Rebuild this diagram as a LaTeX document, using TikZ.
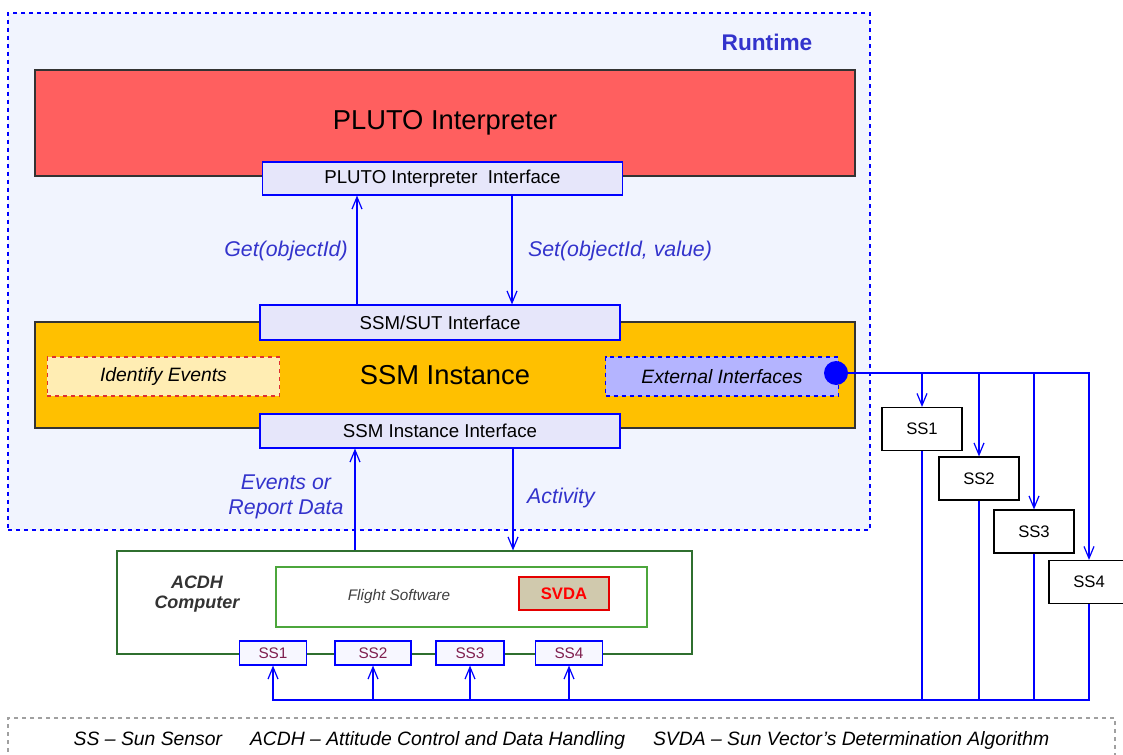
\documentclass[tikz,border=0pt]{standalone}
\usepackage{fontspec}
\setmainfont{Liberation Sans}
\usetikzlibrary{positioning,arrows.meta}
\definecolor{runfill}{HTML}{F1F4FE}
\definecolor{plutored}{HTML}{FF5F5F}
\definecolor{ssmorange}{HTML}{FFC000}
\definecolor{iffill}{HTML}{E6E6FA}
\definecolor{lblblue}{HTML}{3333CC}
\definecolor{idfill}{HTML}{FFEDB3}
\definecolor{idred}{HTML}{E03030}
\definecolor{extfill}{HTML}{B4B4FF}
\definecolor{acdhgreen}{HTML}{2F6F2F}
\definecolor{fswgreen}{HTML}{4CA63C}
\definecolor{svdafill}{HTML}{D0C9AD}
\definecolor{sstext}{HTML}{7F1F4F}
\definecolor{legendgray}{HTML}{A0A0A0}
\tikzset{
  block/.style={draw=black!80, line width=0.8pt, inner sep=0pt},
  iface/.style={draw=blue, fill=iffill, line width=0.8pt, minimum width=270pt,
    font=\fontsize{14}{16}\selectfont},
  subbox/.style={dashed, line width=0.8pt, minimum width=174.5pt, minimum height=29.25pt,
    font=\itshape\fontsize{14.5}{16}\selectfont},
  flow/.style={blue, line width=0.9pt, -{Straight Barb[length=9pt,width=7.5pt]}},
  callout/.style={text=lblblue, font=\itshape\fontsize{16}{19}\selectfont, align=center},
  sensor/.style={draw=blue, fill=blue!3, line width=0.8pt, minimum height=18pt, inner sep=0pt,
    text=sstext, font=\fontsize{11.5}{13}\selectfont},
  remote/.style={draw=black, line width=0.8pt, minimum width=60pt, minimum height=32.25pt,
    font=\fontsize{12.5}{14}\selectfont}
}
\begin{document}
\begin{tikzpicture}[x=0.75pt, y=-0.75pt]
  \useasboundingbox (0,0) rectangle (1123,755);

  \node (runtime) [draw=blue, dashed, fill=runfill, line width=0.8pt,
    minimum width=646.5pt, minimum height=387.75pt] at (439,271.5) {};
  \node (runlbl) [text=lblblue, font=\bfseries\fontsize{17}{20}\selectfont] at (767,42) {Runtime};

  \node (pluto) [block, fill=plutored, minimum width=615pt, minimum height=79.5pt,
    font=\fontsize{20.5}{24}\selectfont] at (445,123) {PLUTO Interpreter};
  \node (plutoif) [iface, minimum height=24.75pt] at (442.5,178.5) {PLUTO Interpreter\ \ Interface};

  \node (ssm) [block, fill=ssmorange, minimum width=615pt, minimum height=79.5pt,
    font=\fontsize{20.5}{24}\selectfont] at (445,375) {SSM Instance};
  \node (sut) [iface, minimum height=26.25pt] at (440,322.5) {SSM/SUT Interface};
  \node (ssmif) [iface, minimum height=25.5pt] at (440,431) {SSM Instance Interface};
  \node (identify) [subbox, draw=idred, fill=idfill] at (163.5,376.5) {Identify Events};
  \node (external) [subbox, draw=blue, fill=extfill] at (722,376.5) {External Interfaces};
  \node (dot) [circle, fill=blue, minimum size=18pt, inner sep=0pt] at (836,373) {};

  \coordinate (getx) at (357,0);
  \coordinate (setx) at (512,0);
  \coordinate (evx) at (355,0);
  \coordinate (actx) at (513,0);
  \draw [flow] (sut.north -| getx) -- (plutoif.south -| getx);
  \draw [flow] (plutoif.south -| setx) -- (sut.north -| setx);
  \node (getlbl) [callout] at (286,251) {Get(objectId)};
  \node (setlbl) [callout] at (620,251) {Set(objectId, value)};

  \node (acdh) [draw=acdhgreen, line width=0.8pt, minimum width=431.25pt, minimum height=77.25pt]
    at (404.5,602.5) {};
  \node (acdhlbl) [text=black!80, align=center, font=\bfseries\itshape\fontsize{13.5}{15}\selectfont]
    at (197,594) {ACDH\\Computer};
  \node (flight) [draw=fswgreen, line width=0.8pt, minimum width=278.25pt, minimum height=45pt]
    at (461.5,597) {};
  \node (fswlbl) [text=black!75, font=\itshape\fontsize{11.5}{13}\selectfont] at (399,597) {Flight Software};
  \node (svda) [draw=red!90!black, fill=svdafill, line width=0.8pt, minimum width=67.5pt,
    minimum height=24.75pt, text=red, font=\bfseries\fontsize{12.5}{14}\selectfont] at (564,593.5) {SVDA};

  \draw [flow] (acdh.north -| evx) -- (ssmif.south -| evx);
  \draw [flow] (ssmif.south -| actx) -- (acdh.north -| actx);
  \node (evlbl) [callout] at (286,497) {Events or\\Report Data};
  \node (actlbl) [callout] at (561,498) {Activity};

  \node (bss1) [sensor, minimum width=50pt] at (273,653) {SS1};
  \node (bss2) [sensor, minimum width=57pt] at (373,653) {SS2};
  \node (bss3) [sensor, minimum width=51pt] at (470,653) {SS3};
  \node (bss4) [sensor, minimum width=50pt] at (569,653) {SS4};

  \node (rss1) [remote] at (922,429) {SS1};
  \node (rss2) [remote] at (979,478.5) {SS2};
  \node (rss3) [remote] at (1034,531.5) {SS3};
  \node (rss4) [remote] at (1089,582) {SS4};

  \coordinate (busy) at (0,700);
  \foreach \i in {1,...,4} {
    \draw [flow] (dot.center) -| (rss\i.north);
    \draw [flow] (rss\i.south) -- (rss\i.south |- busy) -| (bss\i.south);
  }

  \node (legend) [draw=legendgray, dashed, line width=0.8pt, minimum width=830.25pt, minimum height=33pt,
    font=\itshape\fontsize{14.5}{16}\selectfont] at (561.5,740)
    {SS – Sun Sensor\hspace{21pt}ACDH – Attitude Control\ and Data Handling\hspace{21pt}SVDA – Sun Vector’s Determination\ Algorithm\hspace{12pt}};
\end{tikzpicture}
\end{document}
